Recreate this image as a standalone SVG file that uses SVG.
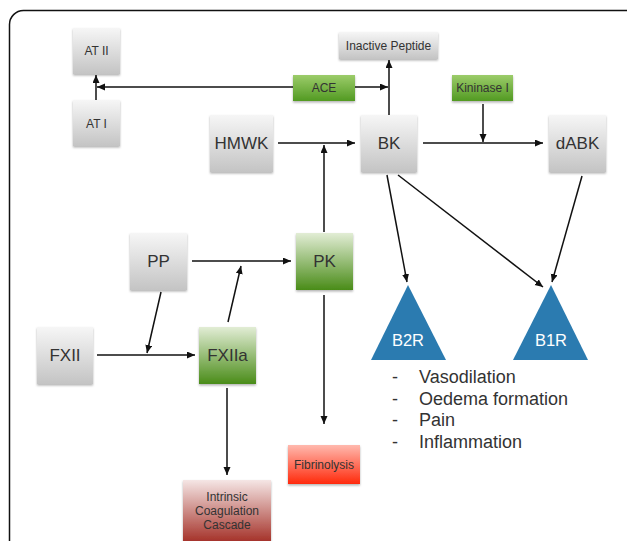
<svg xmlns="http://www.w3.org/2000/svg" width="627" height="541" viewBox="0 0 627 541">
<style>
.t{font-family:"Liberation Sans",Arial,sans-serif;fill:#333;text-anchor:middle}
.s{font-size:12px}
.b{font-size:17px}
.w{font-family:"Liberation Sans",Arial,sans-serif;fill:#fff;font-size:16.5px;text-anchor:middle}
.l{font-family:"Liberation Sans",Arial,sans-serif;fill:#333;font-size:18px}
.c{stroke:#111;stroke-width:1.5;fill:none;marker-end:url(#ah)}
</style>
<defs>
<marker id="ah" markerUnits="userSpaceOnUse" markerWidth="9" markerHeight="8" refX="8" refY="3.5" orient="auto"><path d="M0,0 L8,3.5 L0,7 z" fill="#111"/></marker>
<linearGradient id="gGray" x1="0" y1="0" x2="0" y2="1"><stop offset="0" stop-color="#f6f6f6"/><stop offset="1" stop-color="#c4c4c4"/></linearGradient>
<linearGradient id="gGreen" x1="0" y1="0" x2="0" y2="1"><stop offset="0" stop-color="#e2edd5"/><stop offset="1" stop-color="#4a8c18"/></linearGradient>
<linearGradient id="gGreen2" x1="0" y1="0" x2="0" y2="1"><stop offset="0" stop-color="#9ccc6a"/><stop offset="1" stop-color="#529a22"/></linearGradient>
<linearGradient id="gRed" x1="0" y1="0" x2="0" y2="1"><stop offset="0" stop-color="#ffb9ae"/><stop offset="1" stop-color="#ff2a0c"/></linearGradient>
<linearGradient id="gDark" x1="0" y1="0" x2="0" y2="1"><stop offset="0" stop-color="#f5e6e5"/><stop offset="1" stop-color="#9a1a10"/></linearGradient>
<filter id="sh" x="-10%" y="-10%" width="120%" height="130%"><feDropShadow dx="0" dy="1.5" stdDeviation="1" flood-color="#000" flood-opacity="0.3"/></filter>
</defs>
<rect x="9.5" y="10.5" width="640" height="570" rx="14" fill="#fff" stroke="#111" stroke-width="1.5"/>
<g id="connectors">
<path class="c" d="M96,100 L96,75"/>
<path class="c" d="M293,87 L97,87"/>
<path class="c" d="M355,87 L388,87"/>
<path class="c" d="M389,115 L389,60"/>
<path class="c" d="M483,104 L483,142"/>
<path class="c" d="M278,143 L355,143"/>
<path class="c" d="M324,232 L324,145"/>
<path class="c" d="M423,143 L543,143"/>
<path class="c" d="M387,175 L407,282"/>
<path class="c" d="M398,175 L543,287"/>
<path class="c" d="M582,176 L552,282"/>
<path class="c" d="M192,261 L291,261"/>
<path class="c" d="M228,322 L241,266"/>
<path class="c" d="M161,292 L147,353"/>
<path class="c" d="M97,355 L195,355"/>
<path class="c" d="M324,295 L324,424"/>
<path class="c" d="M227,388 L227,475"/>
</g>
<g id="ATII"><rect x="73" y="28" width="47" height="46" fill="url(#gGray)" filter="url(#sh)"/><text class="t s" x="96.5" y="55">AT II</text></g>
<g id="ATI"><rect x="73" y="100" width="47" height="46" fill="url(#gGray)" filter="url(#sh)"/><text class="t s" x="96.5" y="128">AT I</text></g>
<g id="ACE"><rect x="293" y="75" width="62" height="26" fill="url(#gGreen2)" filter="url(#sh)"/><text class="t s" x="324" y="92">ACE</text></g>
<g id="InactivePeptide"><rect x="339" y="32" width="99" height="27" fill="url(#gGray)" filter="url(#sh)"/><text class="t s" x="388.5" y="50">Inactive Peptide</text></g>
<g id="KininaseI"><rect x="452" y="75" width="61" height="26" fill="url(#gGreen2)" filter="url(#sh)"/><text class="t s" x="482.5" y="92">Kininase I</text></g>
<g id="HMWK"><rect x="210" y="115" width="63" height="57" fill="url(#gGray)" filter="url(#sh)"/><text class="t b" x="241.5" y="149">HMWK</text></g>
<g id="BK"><rect x="361" y="115" width="56" height="57" fill="url(#gGray)" filter="url(#sh)"/><text class="t b" x="389" y="149">BK</text></g>
<g id="dABK"><rect x="549" y="115" width="57" height="57" fill="url(#gGray)" filter="url(#sh)"/><text class="t b" x="577.5" y="149">dABK</text></g>
<g id="PP"><rect x="130" y="233" width="57" height="57" fill="url(#gGray)" filter="url(#sh)"/><text class="t b" x="158.5" y="267">PP</text></g>
<g id="PK"><rect x="296" y="233" width="57" height="57" fill="url(#gGreen)" filter="url(#sh)"/><text class="t b" x="324.5" y="267">PK</text></g>
<g id="FXII"><rect x="37" y="327" width="56" height="57" fill="url(#gGray)" filter="url(#sh)"/><text class="t b" x="65" y="361">FXII</text></g>
<g id="FXIIa"><rect x="199" y="327" width="57" height="57" fill="url(#gGreen)" filter="url(#sh)"/><text class="t b" x="227.5" y="361">FXIIa</text></g>
<g id="B2R"><polygon points="408,285 371,360 446,360" fill="#2b7bb0"/><text class="w" x="408" y="346">B2R</text></g>
<g id="B1R"><polygon points="551,285 513,360 588,360" fill="#2b7bb0"/><text class="w" x="551" y="346">B1R</text></g>
<g id="Fibrinolysis"><rect x="288" y="445" width="72" height="39" fill="url(#gRed)" filter="url(#sh)"/><text class="t s" x="324" y="469">Fibrinolysis</text></g>
<g id="Intrinsic"><rect x="183" y="480" width="88" height="70" fill="url(#gDark)" filter="url(#sh)"/><text class="t s" x="227" y="501">Intrinsic</text><text class="t s" x="227" y="515">Coagulation</text><text class="t s" x="227" y="529">Cascade</text></g>
<g id="effects">
<text class="l" x="392" y="383">-</text><text class="l" x="419" y="383">Vasodilation</text>
<text class="l" x="392" y="405">-</text><text class="l" x="419" y="405">Oedema formation</text>
<text class="l" x="392" y="426">-</text><text class="l" x="419" y="426">Pain</text>
<text class="l" x="392" y="448">-</text><text class="l" x="419" y="448">Inflammation</text>
</g>
</svg>
